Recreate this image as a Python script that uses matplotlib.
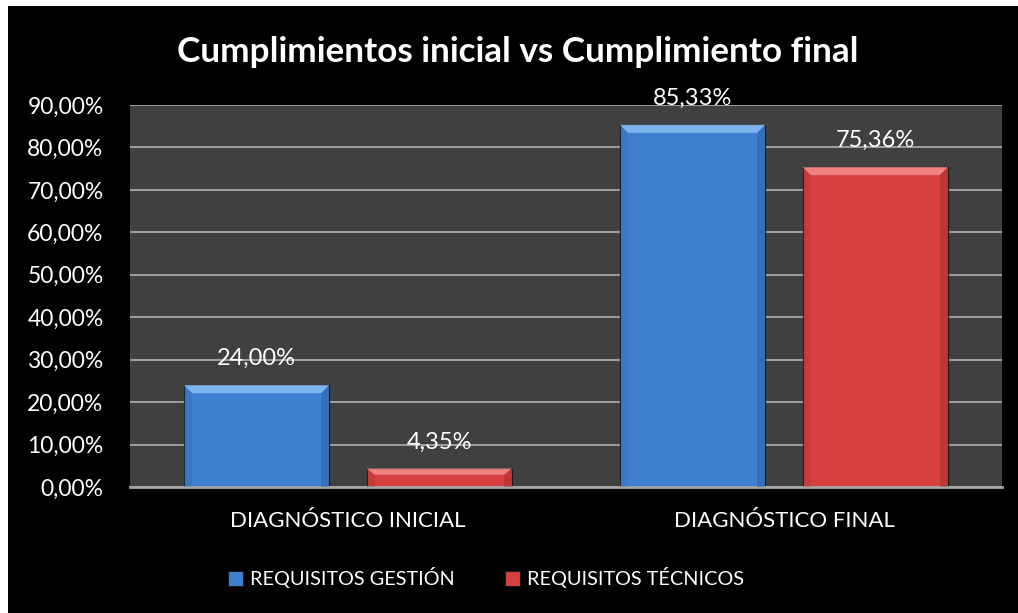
import numpy as np
import matplotlib
matplotlib.use("Agg")
import matplotlib.pyplot as plt
from matplotlib.patches import Polygon, Rectangle
from matplotlib.ticker import FuncFormatter

categories = ["DIAGNÓSTICO INICIAL", "DIAGNÓSTICO FINAL"]
gestion = [24.00, 85.33]
tecnicos = [4.35, 75.36]
series_names = ["REQUISITOS GESTIÓN", "REQUISITOS TÉCNICOS"]
title = "Cumplimientos inicial vs Cumplimiento final"

plt.rcParams['font.family'] = ['Lato', 'DejaVu Sans']

W, H = 1018, 613
fig = plt.figure(figsize=(W / 100, H / 100), dpi=100)
fig.patch.set_facecolor("white")
# black chart area, white strip on left and top
fig.add_artist(Rectangle((8 / W, 0), 1, 1 - 6 / H, transform=fig.transFigure,
                         facecolor="black", edgecolor="none", zorder=-10))

ax = fig.add_axes([130 / W, 1 - 487 / H, (1002 - 130) / W, (487 - 105) / H])
ax.set_facecolor("#404040")
ax.set_xlim(-0.5, 1.5)
ax.set_ylim(0, 90)
ax.set_yticks(np.arange(0, 91, 10))
ax.yaxis.set_major_formatter(FuncFormatter(lambda v, p: f"{v:.2f}".replace(".", ",") + "%"))
ax.grid(axis="y", color="#a6a6a6", linewidth=1.3)
ax.set_axisbelow(True)
for s in ["top", "right", "left"]:
    ax.spines[s].set_visible(False)
ax.spines["bottom"].set_color("#a6a6a6")
ax.spines["bottom"].set_linewidth(2)
ax.tick_params(axis="y", length=0, labelsize=16.5, labelcolor="white", pad=19)
ax.tick_params(axis="x", length=0, labelsize=16, labelcolor="white", pad=17)
ax.set_xticks(range(len(categories)))
ax.set_xticklabels(categories)

width = 0.333
offset = 0.2095
x = np.arange(len(categories))
colors = [("#3f7fd0", "#86bbf2", "#2a5a9c"), ("#d64040", "#f28a8a", "#962a2a")]

fig.canvas.draw()
inv = ax.transData.inverted()
px = abs(inv.transform((8, 0))[0] - inv.transform((0, 0))[0])
py = abs(inv.transform((0, 8))[1] - inv.transform((0, 0))[1])

for vals, sign, (c, light, dark), name in zip([gestion, tecnicos], [-1, 1], colors, series_names):
    xs = x + sign * offset
    bars = ax.bar(xs, vals, width, color=c, edgecolor="#1a1a1a", linewidth=0.8, label=name, zorder=2)
    for b, v in zip(bars, vals):
        x0, x1 = b.get_x(), b.get_x() + b.get_width()
        bpy = min(py, v / 3)
        ax.add_patch(Polygon([(x0, v), (x1, v), (x1 - px, v - bpy), (x0 + px, v - bpy)],
                             closed=True, facecolor=light, edgecolor="none", zorder=3, alpha=0.9))
        ax.add_patch(Polygon([(x1, v), (x1, 0), (x1 - px, 0), (x1 - px, v - bpy)],
                             closed=True, facecolor=dark, edgecolor="none", zorder=3, alpha=0.4))
        ax.add_patch(Polygon([(x0, v), (x0, 0), (x0 + px, 0), (x0 + px, v - bpy)],
                             closed=True, facecolor=dark, edgecolor="none", zorder=3, alpha=0.2))
        ax.annotate(f"{v:.2f}".replace(".", ",") + "%", (b.get_x() + b.get_width() / 2, v),
                    xytext=(0, 19), textcoords="offset points", ha="center", va="center",
                    color="white", fontsize=17, zorder=4)

fig.text(518 / W, 1 - 52 / H, title, ha="center", va="center", color="white",
         fontsize=25.3, fontweight="bold")

leg = fig.legend(loc="center", bbox_to_anchor=(486 / W, 1 - 578 / H), ncol=2, frameon=False,
                 fontsize=14.3, labelcolor="white", handlelength=0.75, handleheight=0.75,
                 handletextpad=0.35, columnspacing=2.5)

fig.savefig("out.png", dpi=100, facecolor=fig.get_facecolor())
